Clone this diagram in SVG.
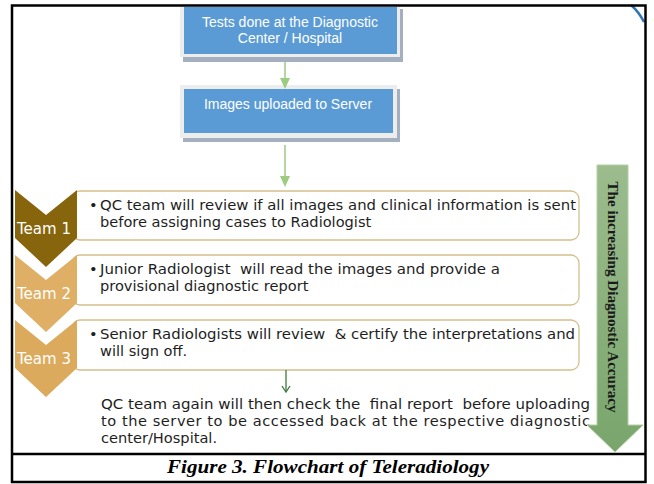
<svg xmlns="http://www.w3.org/2000/svg" width="654" height="484" viewBox="0 0 654 484">
  <style>
    .frame { fill: #EDEDED; }
    .shadow { fill: #A4B0C0; }
    .blue { fill: #5B9BD5; }
    .btxt { font-family: "Liberation Sans", Arial, sans-serif; font-size: 14px; fill: #FFFFFF; text-anchor: middle; }
    .tbox { fill: #FFFFFF; stroke: #D3C08D; stroke-width: 1.3; }
    .txt { font-family: "DejaVu Sans", Verdana, sans-serif; font-size: 14.6px; fill: #1E1E1E; }
    .team { font-family: "DejaVu Sans", Verdana, sans-serif; font-size: 15px; fill: #FFFFFF; }
    .lg { stroke: #9CCB82; stroke-width: 1.5; fill: none; }
    .lgh { fill: #9CCB82; }
  </style>
  <defs>
    <linearGradient id="gArrow" x1="0" y1="0" x2="0" y2="1">
      <stop offset="0" stop-color="#9CBC8E"/>
      <stop offset="1" stop-color="#79A56C"/>
    </linearGradient>
  </defs>
  <rect width="654" height="484" fill="#FFFFFF"/>

  <!-- blue arc at top right -->
  <path d="M631,5 Q639,12 644,22" fill="none" stroke="#2E75B6" stroke-width="2.5"/>

  <g id="node-tests">
    <rect class="shadow" x="183" y="9" width="220" height="53"/>
    <rect class="frame" x="180" y="4" width="220" height="53"/>
    <rect class="blue" x="184" y="7" width="213" height="47"/>
    <text class="btxt" x="290" y="27">Tests done at the Diagnostic</text>
    <text class="btxt" x="290" y="43">Center / Hospital</text>
  </g>

  <g id="node-upload">
    <rect class="shadow" x="183" y="89" width="217" height="53"/>
    <rect class="frame" x="180" y="85" width="217" height="53"/>
    <rect class="blue" x="184" y="89" width="209" height="44"/>
    <text class="btxt" x="288" y="109">Images uploaded to Server</text>
  </g>

  <g id="node-team1">
    <rect class="tbox" x="72" y="191" width="507" height="49" rx="8"/>
    <path d="M15,190 L46,215 L77,190 L77,238 L46,267 L15,238 Z" fill="#86650C"/>
    <text class="team" x="17" y="234">Team 1</text>
    <text class="txt" x="89" y="210">•</text>
    <text class="txt" x="100" y="210" textLength="476" lengthAdjust="spacingAndGlyphs">QC team will review if all images and clinical information is sent</text>
    <text class="txt" x="100" y="227">before assigning cases to Radiologist</text>
  </g>

  <g id="node-team2">
    <rect class="tbox" x="72" y="255" width="507" height="50" rx="8"/>
    <path d="M15,255 L46,280 L77,255 L77,303 L46,332 L15,303 Z" fill="#DEAF64"/>
    <text class="team" x="17" y="299">Team 2</text>
    <text class="txt" x="89" y="274">•</text>
    <text class="txt" x="100" y="274" textLength="400" lengthAdjust="spacingAndGlyphs" xml:space="preserve">Junior Radiologist  will read the images and provide a</text>
    <text class="txt" x="100" y="291">provisional diagnostic report</text>
  </g>

  <g id="node-team3">
    <rect class="tbox" x="72" y="320" width="507" height="50" rx="8"/>
    <path d="M15,320 L46,345 L77,320 L77,368 L46,397 L15,368 Z" fill="#DCAA5C"/>
    <text class="team" x="17" y="364">Team 3</text>
    <text class="txt" x="89" y="339">•</text>
    <text class="txt" x="100" y="339" textLength="475" lengthAdjust="spacingAndGlyphs" xml:space="preserve">Senior Radiologists will review  &amp; certify the interpretations and</text>
    <text class="txt" x="100" y="356">will sign off.</text>
  </g>

  <g id="node-final">
    <text class="txt" x="101" y="409" textLength="489" lengthAdjust="spacingAndGlyphs" xml:space="preserve">QC team again will then check the  final report  before uploading</text>
    <text class="txt" x="101" y="426" textLength="489" lengthAdjust="spacing">to the server to be accessed back at the respective diagnostic</text>
    <text class="txt" x="101" y="443">center/Hospital.</text>
  </g>

  <g id="node-accuracy">
    <path d="M597,165 L628,165 L628,425 L643,425 L615,452 L587,425 L597,425 Z" fill="url(#gArrow)" stroke="#B4CFA6" stroke-width="1"/>
    <text transform="translate(608,297) rotate(90)" font-family="'Liberation Serif', 'Times New Roman', serif" font-weight="bold" font-size="14.5" fill="#1A1A1A" text-anchor="middle" textLength="231" lengthAdjust="spacingAndGlyphs">The increasing Diagnostic Accuracy</text>
  </g>

  <g id="connectors">
    <line class="lg" x1="285" y1="62" x2="285" y2="79"/>
    <path class="lgh" d="M280,78 L290,78 L285,89 Z"/>
    <line class="lg" x1="285" y1="145" x2="285" y2="177"/>
    <path class="lgh" d="M280,176 L290,176 L285,187 Z"/>
    <line x1="286" y1="370" x2="286" y2="392" stroke="#3B7D3B" stroke-width="1.3"/>
    <polyline points="282,386 286,392 290,386" fill="none" stroke="#3B7D3B" stroke-width="1.3"/>
  </g>

  <!-- frame and caption -->
  <rect x="12" y="5.5" width="633.5" height="476.5" fill="none" stroke="#000000" stroke-width="2.5"/>
  <line x1="12" y1="454" x2="646" y2="454" stroke="#000000" stroke-width="2.5"/>
  <text x="328" y="473" font-family="'Liberation Serif', 'Times New Roman', serif" font-weight="bold" font-style="italic" font-size="19.5" fill="#000000" text-anchor="middle" textLength="322" lengthAdjust="spacingAndGlyphs">Figure 3. Flowchart of Teleradiology</text>
</svg>
